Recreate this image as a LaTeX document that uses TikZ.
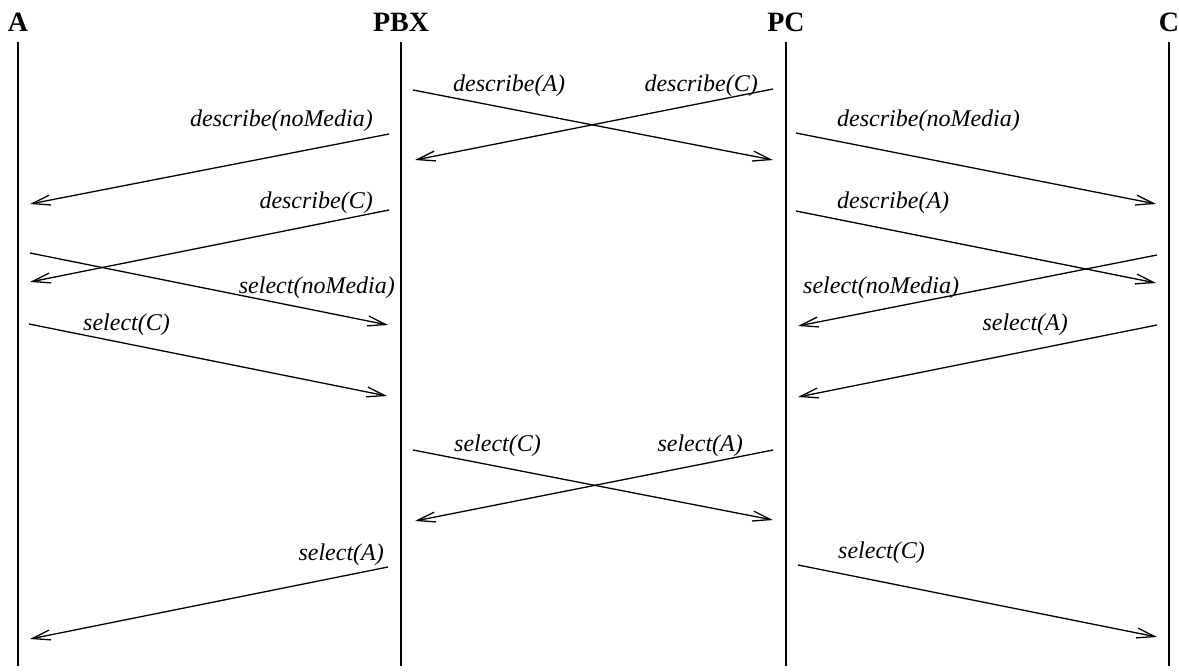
\documentclass[tikz,border=0pt]{standalone}
\usepackage{fontspec}
\setmainfont{Liberation Serif}
\usetikzlibrary{arrows.meta}
\begin{document}
\begin{tikzpicture}[x=1pt,y=-1pt,
  life/.style={line width=1.3pt},
  msg/.style={line width=1.3pt,-{Straight Barb[length=18pt,width=10pt,line width=1.3pt]}},
  head/.style={font=\fontsize{28}{32}\selectfont\bfseries,inner sep=0pt,anchor=base},
  lblL/.style={font=\fontsize{24}{28}\selectfont\itshape,inner sep=0pt,anchor=base west},
  lblR/.style={font=\fontsize{24}{28}\selectfont\itshape,inner sep=0pt,anchor=base east}]
\useasboundingbox (0,0) rectangle (1179,672);

% participants
\node[head] (A)   at (18,31)   {A};
\node[head] (PBX) at (401,31)  {PBX};
\node[head] (PC)  at (786,31)  {PC};
\node[head] (C)   at (1169,31) {C};

% lifelines
\foreach \n/\x in {A/18,PBX/401,PC/786,C/1169}{
  \coordinate (\n-top) at (\x,42);
  \coordinate (\n-bot) at (\x,666);
  \draw[life] (\n-top) -- (\n-bot);
}

% message end points
\coordinate (m1s) at (413,90);   \coordinate (m1e) at (773,160);
\coordinate (m2s) at (773,89);   \coordinate (m2e) at (415,160);
\coordinate (m3s) at (389,134);  \coordinate (m3e) at (30,204);
\coordinate (m4s) at (796,133);  \coordinate (m4e) at (1156,204);
\coordinate (m5s) at (389,210);  \coordinate (m5e) at (30,282);
\coordinate (m6s) at (796,211);  \coordinate (m6e) at (1156,283);
\coordinate (m7s) at (30,253);   \coordinate (m7e) at (388,325);
\coordinate (m8s) at (1157,255); \coordinate (m8e) at (798,326);
\coordinate (m9s) at (29,324);   \coordinate (m9e) at (387,396);
\coordinate (m10s) at (1157,325);\coordinate (m10e) at (798,397);
\coordinate (m11s) at (413,450); \coordinate (m11e) at (773,520);
\coordinate (m12s) at (773,450); \coordinate (m12e) at (415,521);
\coordinate (m13s) at (388,567); \coordinate (m13e) at (30,639);
\coordinate (m14s) at (798,565); \coordinate (m14e) at (1157,637);

% messages
\draw[msg] (m1s) -- (m1e);
\draw[msg] (m2s) -- (m2e);
\draw[msg] (m3s) -- (m3e);
\draw[msg] (m4s) -- (m4e);
\draw[msg] (m5s) -- (m5e);
\draw[msg] (m6s) -- (m6e);
\draw[msg] (m7s) -- (m7e);
\draw[msg] (m8s) -- (m8e);
\draw[msg] (m9s) -- (m9e);
\draw[msg] (m10s) -- (m10e);
\draw[msg] (m11s) -- (m11e);
\draw[msg] (m12s) -- (m12e);
\draw[msg] (m13s) -- (m13e);
\draw[msg] (m14s) -- (m14e);

% message labels
\node[lblL] (l1)  at (453,91)  {describe(A)};
\node[lblR] (l2)  at (758,91)  {describe(C)};
\node[lblR] (l3)  at (373,126) {describe(noMedia)};
\node[lblL] (l4)  at (837,126) {describe(noMedia)};
\node[lblR] (l5)  at (373,208) {describe(C)};
\node[lblL] (l6)  at (837,208) {describe(A)};
\node[lblR] (l7)  at (395,293) {select(noMedia)};
\node[lblL] (l8)  at (803,293) {select(noMedia)};
\node[lblL] (l9)  at (83,330)  {select(C)};
\node[lblR] (l10) at (1068,330){select(A)};
\node[lblL] (l11) at (454,451) {select(C)};
\node[lblR] (l12) at (743,451) {select(A)};
\node[lblR] (l13) at (384,560) {select(A)};
\node[lblL] (l14) at (838,558) {select(C)};
\end{tikzpicture}
\end{document}
